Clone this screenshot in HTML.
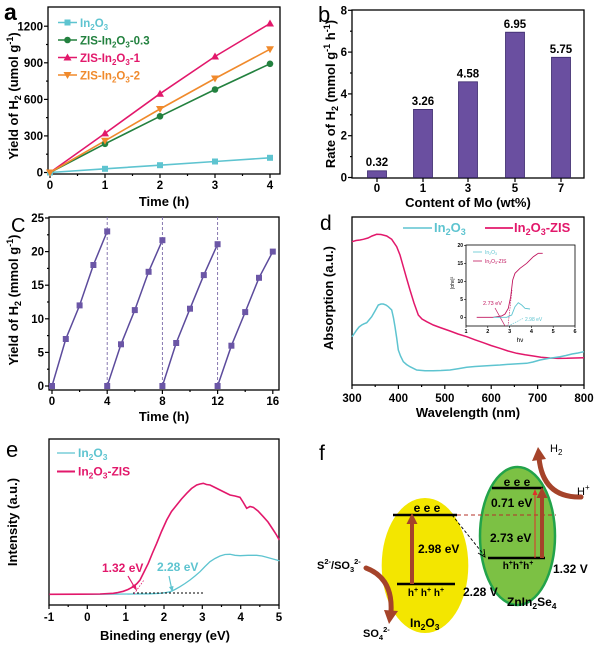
<!DOCTYPE html>
<html><head><meta charset="utf-8"><style>
html,body{margin:0;padding:0;background:#fff;}
svg{display:block;}
text{font-family:"Liberation Sans",Arial,sans-serif;}
.b{font-weight:bold;}
.tl{font-weight:bold;font-size:11.5px;}
.at{font-weight:bold;font-size:13px;}
</style></head><body>
<svg width="600" height="646" viewBox="0 0 600 646" xmlns="http://www.w3.org/2000/svg">
<rect width="600" height="646" fill="#fff"/>

<!-- ================= Panel a ================= -->
<text x="4" y="20" font-size="23" font-weight="bold">a</text>
<rect x="48" y="7" width="232" height="167" fill="none" stroke="#000" stroke-width="1.3"/>
<g stroke="#000" stroke-width="1.2">
<line x1="50" y1="174" x2="50" y2="178"/><line x1="105" y1="174" x2="105" y2="178"/><line x1="160" y1="174" x2="160" y2="178"/><line x1="215" y1="174" x2="215" y2="178"/><line x1="270" y1="174" x2="270" y2="178"/>
<line x1="77.5" y1="174" x2="77.5" y2="176"/><line x1="132.5" y1="174" x2="132.5" y2="176"/><line x1="187.5" y1="174" x2="187.5" y2="176"/><line x1="242.5" y1="174" x2="242.5" y2="176"/>
<line x1="44" y1="172.5" x2="48" y2="172.5"/><line x1="44" y1="135.9" x2="48" y2="135.9"/><line x1="44" y1="99.4" x2="48" y2="99.4"/><line x1="44" y1="62.8" x2="48" y2="62.8"/><line x1="44" y1="26.2" x2="48" y2="26.2"/>
<line x1="46" y1="154.2" x2="48" y2="154.2"/><line x1="46" y1="117.6" x2="48" y2="117.6"/><line x1="46" y1="81.1" x2="48" y2="81.1"/><line x1="46" y1="44.5" x2="48" y2="44.5"/>
</g>
<g class="tl" text-anchor="middle">
<text x="50" y="189">0</text><text x="105" y="189">1</text><text x="160" y="189">2</text><text x="215" y="189">3</text><text x="270" y="189">4</text>
</g>
<g class="tl" text-anchor="end">
<text x="43" y="176.5">0</text><text x="43" y="140">300</text><text x="43" y="103.5">600</text><text x="43" y="67">900</text><text x="43" y="30.5">1200</text>
</g>
<text class="at" x="164" y="206" text-anchor="middle">Time (h)</text>
<text class="at" transform="rotate(-90 18 96)" x="18" y="96" text-anchor="middle">Yield of H<tspan font-size="9" dy="3">2</tspan><tspan dy="-3"> (umol g</tspan><tspan font-size="9" dy="-5">-1</tspan><tspan dy="5">)</tspan></text>
<!-- series -->
<g fill="none" stroke-width="1.6">
<polyline stroke="#5ec4d0" points="50,172.5 105,168.8 160,165.2 215,161.5 270,157.8"/>
<polyline stroke="#23813f" points="50,172.5 105,143.8 160,116.3 215,89.5 270,63.8"/>
<polyline stroke="#e2186b" points="50,172.5 105,133.4 160,93.7 215,56.5 270,23.5"/>
<polyline stroke="#f08a2c" points="50,172.5 105,140.8 160,109 215,78.5 270,49.2"/>
</g>
<g fill="#5ec4d0"><rect x="47" y="169.5" width="6" height="6"/><rect x="102" y="165.8" width="6" height="6"/><rect x="157" y="162.2" width="6" height="6"/><rect x="212" y="158.5" width="6" height="6"/><rect x="267" y="154.8" width="6" height="6"/></g>
<g fill="#23813f"><circle cx="105" cy="143.8" r="3.3"/><circle cx="160" cy="116.3" r="3.3"/><circle cx="215" cy="89.5" r="3.3"/><circle cx="270" cy="63.8" r="3.3"/></g>
<g fill="#e2186b"><polygon points="105,129.4 109,136.4 101,136.4"/><polygon points="160,89.7 164,96.7 156,96.7"/><polygon points="215,52.5 219,59.5 211,59.5"/><polygon points="270,19.5 274,26.5 266,26.5"/></g>
<g fill="#f08a2c"><polygon points="101,137.8 109,137.8 105,144.8"/><polygon points="156,106 164,106 160,113"/><polygon points="211,75.5 219,75.5 215,82.5"/><polygon points="266,46.2 274,46.2 270,53.2"/><polygon points="46,169.5 54,169.5 50,176.5"/></g>
<!-- legend a -->
<line x1="58" y1="22.5" x2="77" y2="22.5" stroke="#5ec4d0" stroke-width="1.6"/><rect x="64.5" y="19.5" width="6" height="6" fill="#5ec4d0"/>
<text x="80" y="27" font-size="11.5" class="b" fill="#5ec4d0">In<tspan font-size="8" dy="3">2</tspan><tspan dy="-3">O</tspan><tspan font-size="8" dy="3">3</tspan></text>
<line x1="58" y1="40" x2="77" y2="40" stroke="#23813f" stroke-width="1.6"/><circle cx="67.5" cy="40" r="3.3" fill="#23813f"/>
<text x="80" y="44.5" font-size="11.5" class="b" fill="#23813f">ZIS-In<tspan font-size="8" dy="3">2</tspan><tspan dy="-3">O</tspan><tspan font-size="8" dy="3">3</tspan><tspan dy="-3">-0.3</tspan></text>
<line x1="58" y1="57.5" x2="77" y2="57.5" stroke="#e2186b" stroke-width="1.6"/><polygon points="67.5,53.5 71.5,60.5 63.5,60.5" fill="#e2186b"/>
<text x="80" y="62" font-size="11.5" class="b" fill="#e2186b">ZIS-In<tspan font-size="8" dy="3">2</tspan><tspan dy="-3">O</tspan><tspan font-size="8" dy="3">3</tspan><tspan dy="-3">-1</tspan></text>
<line x1="58" y1="75" x2="77" y2="75" stroke="#f08a2c" stroke-width="1.6"/><polygon points="63.5,72 71.5,72 67.5,79" fill="#f08a2c"/>
<text x="80" y="79.5" font-size="11.5" class="b" fill="#f08a2c">ZIS-In<tspan font-size="8" dy="3">2</tspan><tspan dy="-3">O</tspan><tspan font-size="8" dy="3">3</tspan><tspan dy="-3">-2</tspan></text>

<!-- ================= Panel b ================= -->
<text x="318" y="22" font-size="22">b</text>
<rect x="352" y="10" width="232" height="168" fill="none" stroke="#000" stroke-width="1.3"/>
<g stroke="#000" stroke-width="1.2">
<line x1="348" y1="177.5" x2="352" y2="177.5"/><line x1="348" y1="135.7" x2="352" y2="135.7"/><line x1="348" y1="93.9" x2="352" y2="93.9"/><line x1="348" y1="52.1" x2="352" y2="52.1"/><line x1="348" y1="10.3" x2="352" y2="10.3"/>
<line x1="350" y1="156.6" x2="352" y2="156.6"/><line x1="350" y1="114.8" x2="352" y2="114.8"/><line x1="350" y1="73" x2="352" y2="73"/><line x1="350" y1="31.2" x2="352" y2="31.2"/>
<line x1="377" y1="178" x2="377" y2="182"/><line x1="423" y1="178" x2="423" y2="182"/><line x1="468" y1="178" x2="468" y2="182"/><line x1="515" y1="178" x2="515" y2="182"/><line x1="561" y1="178" x2="561" y2="182"/>
</g>
<g class="tl" text-anchor="end">
<text x="347" y="181.5">0</text><text x="347" y="139.7">2</text><text x="347" y="97.9">4</text><text x="347" y="56.1">6</text><text x="347" y="14.3">8</text>
</g>
<g class="tl" text-anchor="middle">
<text x="377" y="192">0</text><text x="423" y="192">1</text><text x="468" y="192">3</text><text x="515" y="192">5</text><text x="561" y="192">7</text>
</g>
<text class="at" x="468" y="207" text-anchor="middle">Content of Mo (wt%)</text>
<text class="at" transform="rotate(-90 335 94)" x="335" y="94" text-anchor="middle">Rate of H<tspan font-size="9" dy="3">2</tspan><tspan dy="-3"> (mmol g</tspan><tspan font-size="9" dy="-5">-1</tspan><tspan dy="5"> h</tspan><tspan font-size="9" dy="-5">-1</tspan><tspan dy="5">)</tspan></text>
<g fill="#6a4fa0" stroke="#3b2a6c" stroke-width="0.8">
<rect x="367.5" y="170.8" width="19" height="6.7"/>
<rect x="413.5" y="109.4" width="19" height="68.1"/>
<rect x="458.5" y="81.8" width="19" height="95.7"/>
<rect x="505.5" y="32.2" width="19" height="145.3"/>
<rect x="551.5" y="57.3" width="19" height="120.2"/>
</g>
<g class="tl" text-anchor="middle">
<text x="377" y="166">0.32</text><text x="423" y="105">3.26</text><text x="468" y="77.5">4.58</text><text x="515" y="28">6.95</text><text x="561" y="53">5.75</text>
</g>

<!-- ================= Panel c ================= -->
<text x="11" y="232" font-size="20">C</text>
<rect x="49" y="217" width="230" height="173" fill="none" stroke="#000" stroke-width="1.3"/>
<g stroke="#000" stroke-width="1.2">
<line x1="52" y1="390" x2="52" y2="394"/><line x1="107.2" y1="390" x2="107.2" y2="394"/><line x1="162.4" y1="390" x2="162.4" y2="394"/><line x1="217.6" y1="390" x2="217.6" y2="394"/><line x1="272.8" y1="390" x2="272.8" y2="394"/>
<line x1="79.6" y1="390" x2="79.6" y2="392"/><line x1="134.8" y1="390" x2="134.8" y2="392"/><line x1="190" y1="390" x2="190" y2="392"/><line x1="245.2" y1="390" x2="245.2" y2="392"/>
<line x1="45" y1="386" x2="49" y2="386"/><line x1="45" y1="352.4" x2="49" y2="352.4"/><line x1="45" y1="318.8" x2="49" y2="318.8"/><line x1="45" y1="285.2" x2="49" y2="285.2"/><line x1="45" y1="251.6" x2="49" y2="251.6"/><line x1="45" y1="218" x2="49" y2="218"/>
<line x1="47" y1="369.2" x2="49" y2="369.2"/><line x1="47" y1="335.6" x2="49" y2="335.6"/><line x1="47" y1="302" x2="49" y2="302"/><line x1="47" y1="268.4" x2="49" y2="268.4"/><line x1="47" y1="234.8" x2="49" y2="234.8"/>
</g>
<g class="tl" text-anchor="middle">
<text x="52" y="405">0</text><text x="107.2" y="405">4</text><text x="162.4" y="405">8</text><text x="217.6" y="405">12</text><text x="272.8" y="405">16</text>
</g>
<g class="tl" text-anchor="end">
<text x="44" y="390">0</text><text x="44" y="356.4">5</text><text x="44" y="322.8">10</text><text x="44" y="289.2">15</text><text x="44" y="255.6">20</text><text x="44" y="222">25</text>
</g>
<text class="at" x="164" y="421" text-anchor="middle">Time (h)</text>
<text class="at" transform="rotate(-90 18 300)" x="18" y="300" text-anchor="middle">Yield of H<tspan font-size="9" dy="3">2</tspan><tspan dy="-3"> (mmol g</tspan><tspan font-size="9" dy="-5">-1</tspan><tspan dy="5">)</tspan></text>
<g stroke="#7a6aa8" stroke-width="0.9" stroke-dasharray="3,2">
<line x1="107.2" y1="217" x2="107.2" y2="386"/><line x1="162.4" y1="217" x2="162.4" y2="386"/><line x1="217.6" y1="217" x2="217.6" y2="386"/>
</g>
<g fill="none" stroke="#5c4b9c" stroke-width="1.5">
<polyline points="52,386 65.8,339 79.6,305.4 93.4,265 107.2,231.4"/>
<polyline points="107.2,386 121,344.3 134.8,310.1 148.6,271.8 162.4,240.2"/>
<polyline points="162.4,386 176.2,343 190,308.7 203.8,275.1 217.6,244.2"/>
<polyline points="217.6,386 231.4,345.7 245.2,312.1 259,277.8 272.8,251.6"/>
</g>
<g fill="#6b56a6">
<rect x="49" y="383" width="6" height="6"/><rect x="62.8" y="336" width="6" height="6"/><rect x="76.6" y="302.4" width="6" height="6"/><rect x="90.4" y="262" width="6" height="6"/><rect x="104.2" y="228.4" width="6" height="6"/>
<rect x="104.2" y="383" width="6" height="6"/><rect x="118" y="341.3" width="6" height="6"/><rect x="131.8" y="307.1" width="6" height="6"/><rect x="145.6" y="268.8" width="6" height="6"/><rect x="159.4" y="237.2" width="6" height="6"/>
<rect x="159.4" y="383" width="6" height="6"/><rect x="173.2" y="340" width="6" height="6"/><rect x="187" y="305.7" width="6" height="6"/><rect x="200.8" y="272.1" width="6" height="6"/><rect x="214.6" y="241.2" width="6" height="6"/>
<rect x="214.6" y="383" width="6" height="6"/><rect x="228.4" y="342.7" width="6" height="6"/><rect x="242.2" y="309.1" width="6" height="6"/><rect x="256" y="274.8" width="6" height="6"/><rect x="269.8" y="248.6" width="6" height="6"/>
</g>

<!-- ================= Panel d ================= -->
<text x="320" y="230" font-size="21">d</text>
<rect x="352" y="217" width="232" height="168" fill="none" stroke="#000" stroke-width="1.3"/>
<g stroke="#000" stroke-width="1.2">
<line x1="352" y1="385" x2="352" y2="389"/><line x1="398.4" y1="385" x2="398.4" y2="389"/><line x1="444.8" y1="385" x2="444.8" y2="389"/><line x1="491.2" y1="385" x2="491.2" y2="389"/><line x1="537.6" y1="385" x2="537.6" y2="389"/><line x1="584" y1="385" x2="584" y2="389"/>
<line x1="375.2" y1="385" x2="375.2" y2="387"/><line x1="421.6" y1="385" x2="421.6" y2="387"/><line x1="468" y1="385" x2="468" y2="387"/><line x1="514.4" y1="385" x2="514.4" y2="387"/><line x1="560.8" y1="385" x2="560.8" y2="387"/>
</g>
<g class="tl" text-anchor="middle">
<text x="352" y="402">300</text><text x="398.4" y="402">400</text><text x="444.8" y="402">500</text><text x="491.2" y="402">600</text><text x="537.6" y="402">700</text><text x="584" y="402">800</text>
</g>
<text class="at" x="468" y="417" text-anchor="middle">Wavelength (nm)</text>
<text class="at" transform="rotate(-90 333 298)" x="333" y="298" text-anchor="middle">Absorption (a.u.)</text>
<polyline fill="none" stroke="#e2186b" stroke-width="1.5" points="352,241.7 356,240.5 360,240 363.3,239.3 368,238 372,236 376.7,234.3 381,234.5 386.7,236 391.7,239.3 396.7,246.7 400,255 403.3,266.7 406.5,278 410,290 414,303 418.3,315 422,319 426.7,321.7 433.3,325 440,327.5 450,331 458,334 466.7,336.7 475,339.8 483.3,342.7 491,345.5 500,348.3 508,351 516.7,353.3 525,354.8 533.3,356 541,357.2 550,358 558,358.4 566.7,358.3 575,358 584,357.7"/>
<polyline fill="none" stroke="#5ec4d0" stroke-width="1.5" points="352,336.7 354,334 356.7,330 359,327 361.7,325 364,323.8 366.7,322.7 369,320 371.7,316.7 375,311 378.3,305 381,304 383.3,304 386,305 388.3,306.7 391.7,310 393.5,318 395,326.7 396.7,338 398.3,350 400.5,356 403.3,361.7 406.5,364.5 410,366.7 416.7,370 425,370.8 433.3,370.7 441,370.5 450,370 458,368.7 466.7,367.3 475,366.5 483,366 491,365.5 500,365 510,364.2 518,363.7 526.7,363.3 533,362 540,360 548,358.5 555,357.5 560,356.7 566,355.5 572,354 578,353 584,351.7"/>
<!-- legend d -->
<line x1="403" y1="228" x2="432" y2="228" stroke="#5ec4d0" stroke-width="1.5"/>
<text x="434" y="232" font-size="13" class="b" fill="#5ec4d0">In<tspan font-size="9" dy="3">2</tspan><tspan dy="-3">O</tspan><tspan font-size="9" dy="3">3</tspan></text>
<line x1="485" y1="228" x2="513" y2="228" stroke="#e2186b" stroke-width="1.8"/>
<text x="514" y="232" font-size="13" class="b" fill="#e2186b">In<tspan font-size="9" dy="3">2</tspan><tspan dy="-3">O</tspan><tspan font-size="9" dy="3">3</tspan><tspan dy="-3">-ZIS</tspan></text>
<!-- inset -->
<rect x="466" y="245" width="109" height="81" fill="none" stroke="#000" stroke-width="0.8"/>
<g stroke="#000" stroke-width="0.6">
<line x1="466" y1="326" x2="466" y2="328"/><line x1="487.8" y1="326" x2="487.8" y2="328"/><line x1="509.6" y1="326" x2="509.6" y2="328"/><line x1="531.4" y1="326" x2="531.4" y2="328"/><line x1="553.2" y1="326" x2="553.2" y2="328"/><line x1="575" y1="326" x2="575" y2="328"/>
<line x1="464" y1="317.3" x2="466" y2="317.3"/><line x1="464" y1="299.3" x2="466" y2="299.3"/><line x1="464" y1="281.3" x2="466" y2="281.3"/><line x1="464" y1="263.3" x2="466" y2="263.3"/><line x1="464" y1="245.3" x2="466" y2="245.3"/>
</g>
<g font-size="5.5" class="b" text-anchor="middle">
<text x="466" y="333">1</text><text x="487.8" y="333">2</text><text x="509.6" y="333">3</text><text x="531.4" y="333">4</text><text x="553.2" y="333">5</text><text x="575" y="333">6</text>
</g>
<g font-size="5" class="b" text-anchor="end">
<text x="463" y="319">0</text><text x="463" y="301">5</text><text x="463" y="283">10</text><text x="463" y="265">15</text><text x="463" y="247">20</text>
</g>
<text x="520" y="342" font-size="6.5" text-anchor="middle">hν</text>
<text transform="rotate(-90 454 283)" x="454" y="283" font-size="5" text-anchor="middle">|αhν|²</text>
<polyline fill="none" stroke="#c0155e" stroke-width="0.9" points="476.7,317.3 493.3,317.3 501.7,316 505,314 508.3,308.3 510.7,296.7 512.7,280 515,273.3 520,268.3 526.7,263.3 533.3,256.7 538.3,253.3 542.7,253.3"/>
<line x1="495" y1="308" x2="505" y2="326" stroke="#c0155e" stroke-width="0.7"/>
<line x1="508" y1="326" x2="512" y2="290" stroke="#c0155e" stroke-width="0.6" stroke-dasharray="1.5,1"/>
<polyline fill="none" stroke="#5ec4d0" stroke-width="0.9" points="493.3,317.3 506.7,317.3 511.7,315 515,306.7 518.3,302.7 521.7,305 525,308.3 530,309"/>
<line x1="508.3" y1="326" x2="523.3" y2="318.3" stroke="#5ec4d0" stroke-width="0.6" stroke-dasharray="1.5,1"/>
<text x="483" y="305" font-size="5.5" fill="#c0155e">2.73 eV</text>
<text x="525" y="321" font-size="5" fill="#5ec4d0">2.98 eV</text>
<line x1="473" y1="252" x2="482" y2="252" stroke="#5ec4d0" stroke-width="0.8"/>
<text x="485" y="254" font-size="5" fill="#5ec4d0">In<tspan font-size="3.5" dy="1">2</tspan><tspan dy="-1">O</tspan><tspan font-size="3.5" dy="1">3</tspan></text>
<line x1="473" y1="261" x2="482" y2="261" stroke="#c0155e" stroke-width="0.8"/>
<text x="485" y="263" font-size="5" fill="#c0155e">In<tspan font-size="3.5" dy="1">2</tspan><tspan dy="-1">O</tspan><tspan font-size="3.5" dy="1">3</tspan><tspan dy="-1">-ZIS</tspan></text>

<!-- ================= Panel e ================= -->
<text x="6" y="457" font-size="22">e</text>
<rect x="49" y="439" width="230" height="166" fill="none" stroke="#000" stroke-width="1.3"/>
<g stroke="#000" stroke-width="1.2">
<line x1="49" y1="605" x2="49" y2="609"/><line x1="87.3" y1="605" x2="87.3" y2="609"/><line x1="125.7" y1="605" x2="125.7" y2="609"/><line x1="164" y1="605" x2="164" y2="609"/><line x1="202.3" y1="605" x2="202.3" y2="609"/><line x1="240.7" y1="605" x2="240.7" y2="609"/><line x1="279" y1="605" x2="279" y2="609"/>
<line x1="68.2" y1="605" x2="68.2" y2="607"/><line x1="106.5" y1="605" x2="106.5" y2="607"/><line x1="144.8" y1="605" x2="144.8" y2="607"/><line x1="183.2" y1="605" x2="183.2" y2="607"/><line x1="221.5" y1="605" x2="221.5" y2="607"/><line x1="259.8" y1="605" x2="259.8" y2="607"/>
</g>
<g class="tl" text-anchor="middle">
<text x="49" y="621">-1</text><text x="87.3" y="621">0</text><text x="125.7" y="621">1</text><text x="164" y="621">2</text><text x="202.3" y="621">3</text><text x="240.7" y="621">4</text><text x="279" y="621">5</text>
</g>
<text class="at" x="165" y="640" text-anchor="middle">Bineding energy (eV)</text>
<text class="at" transform="rotate(-90 17 522)" x="17" y="522" text-anchor="middle">Intensity (a.u.)</text>
<polyline fill="none" stroke="#5ec4d0" stroke-width="1.3" points="49.3,594.3 90,594.3 133.3,594 150,593.8 160,593.3 165,592.7 170,591.7 175,589.5 180,586.7 185,583.5 190,580 195,576 200,571.7 205,566.5 210,561.7 215,558.5 220,556 225,554.5 230,554.3 235,555.3 240,555.7 248,555.3 256.7,555.3 262,556 266.7,557.3 273,559 279.3,560.7"/>
<polyline fill="none" stroke="#e2186b" stroke-width="1.6" points="49.3,594.3 80,594.2 100,594 113.3,593.3 118,592.5 123.3,591.3 128,589.5 133.3,586.7 137,583.5 140,580 144,572 148.3,563.3 152.5,553 156.7,543.3 161.5,531.5 166.7,520 171.5,511.5 176.7,505 181.5,499 186.7,493.3 191.5,488.5 196.7,485 200,484 203.3,483.3 206.5,484.5 210,485 215,487.5 220,490 225,492.5 230,495 235,496 240,497.3 243,502 246.7,508.3 250,506.5 253.3,507.3 258,511 263.3,516.7 268,522 273.3,530 276.5,535 279.3,540"/>
<line x1="133" y1="593" x2="204" y2="593" stroke="#000" stroke-width="0.9" stroke-dasharray="2,2"/>
<line x1="134" y1="594" x2="144" y2="580" stroke="#e2186b" stroke-width="0.8" stroke-dasharray="1.5,1.5"/>
<line x1="128" y1="576" x2="135" y2="588" stroke="#e2186b" stroke-width="1.2"/>
<polygon points="137,591 131.5,586 135.5,584" fill="#e2186b"/>
<line x1="169" y1="576" x2="171.5" y2="588" stroke="#5ec4d0" stroke-width="1.2"/>
<polygon points="172.5,592 169,587 173.5,586" fill="#5ec4d0"/>
<text x="102" y="572" font-size="12" class="b" fill="#e2186b">1.32 eV</text>
<text x="157" y="571" font-size="12" class="b" fill="#5ec4d0">2.28 eV</text>
<line x1="57" y1="453" x2="75" y2="453" stroke="#5ec4d0" stroke-width="1.3"/>
<text x="78" y="457" font-size="12" class="b" fill="#5ec4d0">In<tspan font-size="8.5" dy="3">2</tspan><tspan dy="-3">O</tspan><tspan font-size="8.5" dy="3">3</tspan></text>
<line x1="57" y1="471.5" x2="75" y2="471.5" stroke="#e2186b" stroke-width="2"/>
<text x="78" y="475.5" font-size="12" class="b" fill="#e2186b">In<tspan font-size="8.5" dy="3">2</tspan><tspan dy="-3">O</tspan><tspan font-size="8.5" dy="3">3</tspan><tspan dy="-3">-ZIS</tspan></text>

<!-- ================= Panel f ================= -->
<text x="319" y="460" font-size="21">f</text>
<ellipse cx="425" cy="565.5" rx="43.3" ry="67.5" fill="#f3e600"/>
<ellipse cx="517.5" cy="536" rx="37.5" ry="69" fill="#7cc144" stroke="#22a34a" stroke-width="2.5"/>
<!-- dashed connections -->
<line x1="457" y1="515" x2="556" y2="515" stroke="#b5302a" stroke-width="1" stroke-dasharray="4,3"/>
<line x1="452" y1="515" x2="484" y2="555" stroke="#000" stroke-width="0.9" stroke-dasharray="3,2"/>
<polyline points="478,553 485,557 484,549" fill="none" stroke="#000" stroke-width="0.9"/>
<!-- band lines -->
<g stroke="#000" stroke-width="2.6">
<line x1="393" y1="515" x2="457" y2="515"/><line x1="397" y1="584" x2="455" y2="584"/>
<line x1="492" y1="488" x2="543" y2="488"/><line x1="488" y1="558" x2="545" y2="558"/>
</g>
<!-- arrows -->
<line x1="412" y1="584" x2="412" y2="522" stroke="#a5432a" stroke-width="4"/>
<polygon points="412,513 406.5,524 417.5,524" fill="#a5432a"/>
<line x1="542" y1="558" x2="542" y2="495" stroke="#a5432a" stroke-width="4"/>
<polygon points="542,487 536.5,498 547.5,498" fill="#a5432a"/>
<line x1="535" y1="558" x2="535" y2="494" stroke="#e0302a" stroke-width="1"/>
<polygon points="535,489 532.5,495 537.5,495" fill="#e0302a"/>
<!-- swooshes -->
<path d="M366,568 Q393,578 391,612" fill="none" stroke="#a5432a" stroke-width="5" stroke-linecap="round"/>
<polygon points="384,610 398,611 389,624" fill="#a5432a"/>
<path d="M581,497 Q543,498 539,458" fill="none" stroke="#a5432a" stroke-width="5" stroke-linecap="round"/>
<polygon points="532,461 546,459 538,447" fill="#a5432a"/>
<!-- texts -->
<g class="b" font-size="12">
<text x="427" y="512" text-anchor="middle">e  e  e</text>
<text x="517" y="486" text-anchor="middle">e e e</text>
<text x="426" y="596" text-anchor="middle" font-size="10">h<tspan font-size="7" dy="-4">+</tspan><tspan dy="4"> h</tspan><tspan font-size="7" dy="-4">+</tspan><tspan dy="4"> h</tspan><tspan font-size="7" dy="-4">+</tspan></text>
<text x="518" y="569" text-anchor="middle" font-size="10">h<tspan font-size="7" dy="-4">+</tspan><tspan dy="4">h</tspan><tspan font-size="7" dy="-4">+</tspan><tspan dy="4">h</tspan><tspan font-size="7" dy="-4">+</tspan></text>
<text x="418" y="553">2.98 eV</text>
<text x="463" y="596">2.28 V</text>
<text x="491" y="507">0.71 eV</text>
<text x="490" y="542">2.73 eV</text>
<text x="553" y="573">1.32 V</text>
<text x="507" y="606">ZnIn<tspan font-size="8.5" dy="3">2</tspan><tspan dy="-3">Se</tspan><tspan font-size="8.5" dy="3">4</tspan></text>
<text x="410" y="627">In<tspan font-size="8.5" dy="3">2</tspan><tspan dy="-3">O</tspan><tspan font-size="8.5" dy="3">3</tspan></text>
<text x="317" y="569" font-size="11">S<tspan font-size="7.5" dy="-5">2-</tspan><tspan dy="5">/SO</tspan><tspan font-size="7.5" dy="3">3</tspan><tspan font-size="7.5" dy="-8">2-</tspan></text>
<text x="363" y="637" font-size="11">SO<tspan font-size="7.5" dy="3">4</tspan><tspan font-size="7.5" dy="-8">2-</tspan></text>
<text x="577" y="495" font-size="11" font-weight="normal">H<tspan font-size="8" dy="-5">+</tspan></text>
<text x="550" y="452" font-size="11" font-weight="normal">H<tspan font-size="8" dy="3">2</tspan></text>
</g>
</svg>
</body></html>
